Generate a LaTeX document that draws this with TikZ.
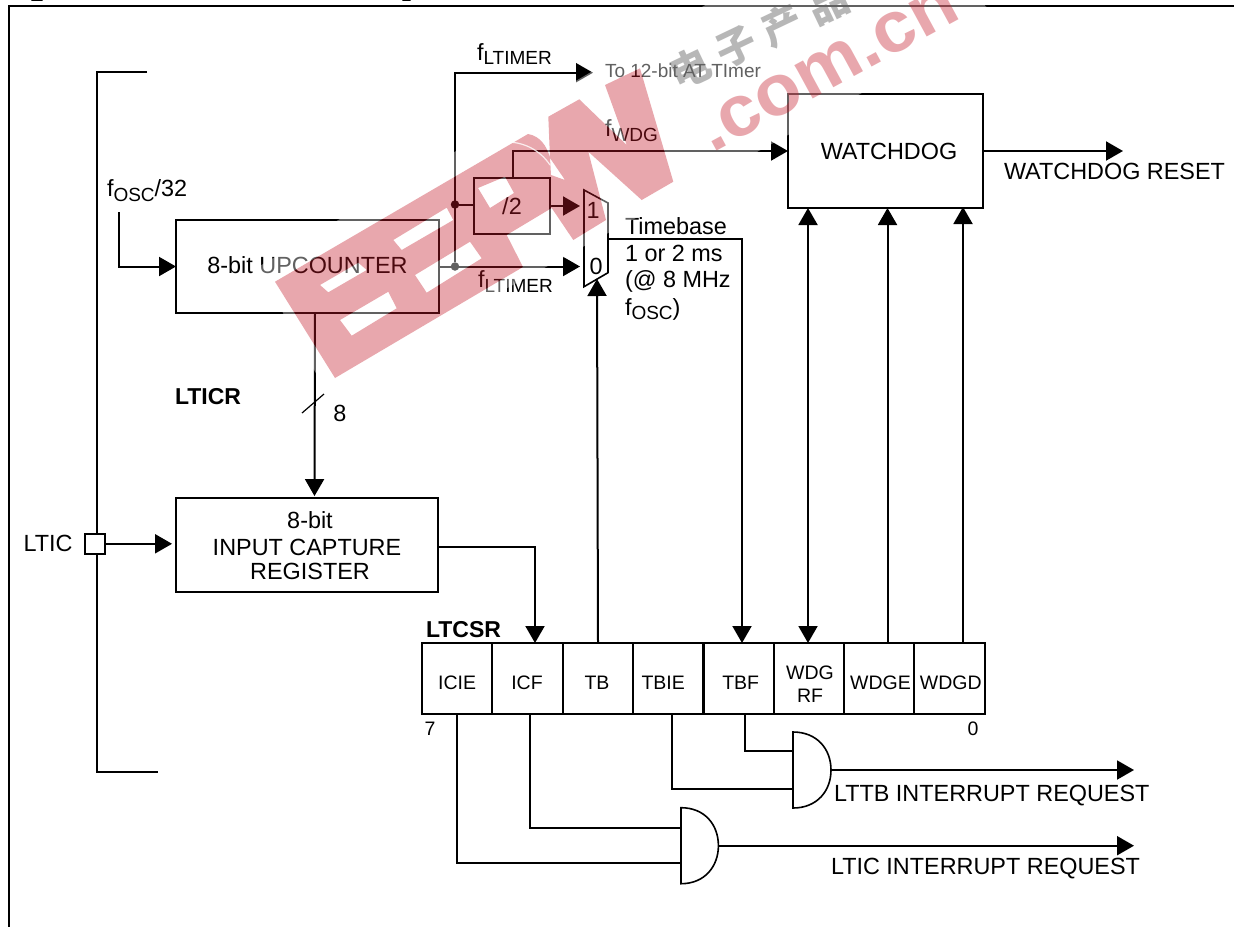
\documentclass[tikz,border=0pt]{standalone}
\usepackage{fontspec}
\setmainfont{Liberation Sans}
\newfontfamily\cjkwm{Noto Sans CJK SC}
\newfontfamily\latwm[FakeStretch=1.05]{Liberation Sans}
\usetikzlibrary{arrows.meta,calc}
\newcommand\fsz[1]{\fontsize{#1}{#1}\selectfont}
\newcommand\lowtxt[1]{\raisebox{-4.6pt}{\fsz{19}#1}}
\definecolor{wmred}{RGB}{197,26,40}
\tikzset{
  wire/.style={line width=2pt,line join=miter},
  arr/.style={wire,-{Triangle[length=17pt,width=19pt]}},
  darr/.style={wire,{Triangle[length=17pt,width=19pt]}-{Triangle[length=17pt,width=19pt]}},
  block/.style={draw,line width=2pt,inner sep=0pt,outer sep=0pt},
  lab/.style={inner sep=0pt,outer sep=0pt,font=\fsz{23.4}},
  celltxt/.style={inner sep=0pt,outer sep=0pt,font=\fsz{19.5},align=center},
  regcell/.style={draw,line width=1.6pt,inner sep=0pt,outer sep=0pt,minimum height=71pt},
  gate/.style={line width=1.6pt,fill=white},
  jdot/.style={circle,fill=black,inner sep=0pt,minimum size=8.5pt,outer sep=0pt},
  wmark/.style={fill=wmred,fill opacity=.38},
}
\def\eepwpath{
  (275,281.7) -- (528,134) .. controls (540,136) and (547,146) .. (550,158) -- (551,175) -- (551.7,208) -- (506.7,235) -- (523,267) -- (335,378) -- cycle
  (320,285) -- (358.3,262.7) -- (366.7,270) -- (328.3,292.3) -- cycle
  (340,320) -- (388.3,291.7) -- (396.7,308.3) -- (351.7,335.7) -- cycle
  (393.3,240) -- (446.7,207.7) -- (453.3,220) -- (401.7,250) -- cycle
  (415,275) -- (470,241.7) -- (481.7,258.3) -- (426.7,292.7) -- cycle
  (478,188) -- (505,176.7) -- (514,193) -- (490,208) -- cycle
  (548.3,116.7) -- (579.3,99.3) -- (626.7,145) -- (605,85) -- (640,68.3) -- (673.3,181.7) -- (641.7,200) -- (588.3,151.7) -- (606,220) -- (573.3,240) -- (551.7,208) -- (551,175) -- (565,180) -- (550,158) -- cycle
}
\begin{document}
\begin{tikzpicture}[x=1pt,y=-1pt]
\useasboundingbox (0,0) rectangle (1234,927);
\clip (0,0) rectangle (1234,927);
\fill[white] (0,0) rectangle (1234,927);

% grey watermark characters, behind the diagram
\node[inner sep=0pt,anchor=base west,rotate=25.5,text=black!45,font=\fsz{40}\cjkwm\bfseries] (wmcn) at (678,91) {电\hspace{11pt}子\hspace{11pt}产\hspace{11pt}品};

% frame and clipped title descenders
\draw[wire] (1234,6) -- (9,6) -- (9,927);
\draw[line width=1.6pt,line cap=round] (32,0.4) -- (42,0.4);
\draw[line width=1.6pt,line cap=round] (403,0.4) -- (410,0.4);

% package bracket
\draw[wire] (147,72) -- (96.5,72) -- (96.5,772) -- (158,772);

% blocks
\node[block,minimum width=263pt,minimum height=93pt,label={[lab,yshift=1.5pt]center:8-bit UPCOUNTER}] (upc) at (307.5,266.5) {};
\node[block,minimum width=262.5pt,minimum height=93.7pt,label={[lab,align=center,yshift=-.5pt]center:\hspace*{6pt}8-bit\\[3.4pt]INPUT CAPTURE\\[.6pt]\hspace*{6pt}REGISTER}] (icr) at (307,544.9) {};
\node[block,minimum width=195pt,minimum height=114pt,label={[lab,xshift=3.5pt]center:WATCHDOG}] (wdg) at (885.5,151) {};
\node[block,minimum width=76pt,minimum height=56pt,font=\fsz{23.4}] (div) at (512,206) {/2};
\node[block,fill=white,minimum width=20pt,minimum height=19.7pt] (pin) at (94.6,543.8) {};

% multiplexer
\draw[line width=1.6pt,fill=white] (584,190) -- (608,203) -- (608,272.7) -- (584,286.7) -- cycle;
\node[lab] (mone) at (593,210) {1};
\node[lab] (mzero) at (596,266.7) {0};
\coordinate (muxa) at (580,206);
\coordinate (muxb) at (580,266.5);
\coordinate (muxc) at (597,279);
\coordinate (muxout) at (608,239);

% register cells
\node[regcell,minimum width=69.6pt,label={[celltxt,yshift=-4pt]center:ICIE}] (icie) at (457.2,678.5) {};
\node[regcell,minimum width=71pt,label={[celltxt,yshift=-4pt,xshift=-.5pt]center:ICF}] (icf) at (527.5,678.5) {};
\node[regcell,minimum width=70pt,label={[celltxt,yshift=-4pt,xshift=-1pt]center:TB}] (tb) at (598,678.5) {};
\node[regcell,minimum width=70.5pt,label={[celltxt,yshift=-4pt,xshift=-5pt]center:TBIE}] (tbie) at (668.2,678.5) {};
\node[regcell,minimum width=70.5pt,label={[celltxt,yshift=-4pt,xshift=2pt]center:TBF}] (tbf) at (738.7,678.5) {};
\node[regcell,minimum width=70pt,label={[celltxt,yshift=-5.5pt,xshift=1pt]center:{WDG\\[3pt]RF}}] (wdgrf) at (809,678.5) {};
\node[regcell,minimum width=70pt,label={[celltxt,yshift=-4pt,xshift=1.5pt]center:WDGE}] (wdge) at (879,678.5) {};
\node[regcell,minimum width=71pt,label={[celltxt,yshift=-4pt,xshift=1.2pt]center:WDGD}] (wdgd) at (949.5,678.5) {};
\draw[line width=2pt] (422.4,643) rectangle (985,714);
\draw[line width=2.6pt] (703.5,643) -- (703.5,714);
\node[celltxt,anchor=base] (bsev) at (430,735) {7};
\node[celltxt,anchor=base] (bzero) at (973,735) {0};
\node[lab,anchor=base west,font=\fsz{23}\bfseries] (ltcsr) at (426,637) {LTCSR};
\node[lab,anchor=base west,font=\fsz{23}\bfseries] (lticr) at (175,404) {LTICR};

% gates
\draw[gate] (793,732) .. controls (817,732) and (831,749) .. (831,770) .. controls (831,791) and (817,808) .. (793,808) -- cycle;
\draw[gate] (681,807.7) .. controls (705,807.7) and (718.4,825) .. (718.4,845.7) .. controls (718.4,866) and (705,883.7) .. (681,883.7) -- cycle;
\coordinate (anda) at (793,750.7);
\coordinate (andb) at (793,788.7);
\coordinate (ando) at (831,770);
\coordinate (orta) at (681,828);
\coordinate (ortb) at (681,863);
\coordinate (orto) at (718.4,845.7);

% junctions and free ends
\node[jdot] (ja) at (455,204.5) {};
\node[jdot] (jb) at (455,266.5) {};
\coordinate (totimer) at (593,72.7);
\coordinate (foscin) at (118.6,212);
\coordinate (resetout) at (1123,151);
\coordinate (ttbout) at (1134,770);
\coordinate (ticout) at (1134,845.7);
\coordinate (slasha) at (302,413);
\coordinate (slashb) at (324,394);

% connectors
\draw[arr] (jb) -- (totimer -| jb) -- (totimer);
\draw[wire] (ja) -- (div.west |- ja);
\draw[arr] (div.east) -- (muxa);
\draw[arr] (upc.east) -- (muxb);
\draw[arr] ([xshift=1pt]div.north) |- (wdg.west);
\draw[arr] (foscin) |- (upc.west);
\draw[arr] ([xshift=7.5pt]upc.south) -- ([xshift=7.5pt,yshift=2pt]icr.north);
\draw[line width=1.2pt] (slasha) -- (slashb);
\draw[arr] (pin.east) -- ([xshift=-3.7pt]icr.west |- pin.east);
\draw[arr] (icr.east |- 0,546.7) -| ([xshift=7.5pt]icf.north);
\draw[arr] (tb.north) -- (muxc);
\draw[arr] (muxout) -| ([xshift=3.3pt]tbf.north);
\draw[darr] (wdgrf.north -| 808,0) -- (wdg.south -| 808,0);
\draw[arr] ([xshift=8.5pt]wdge.north) -- (wdg.south -| 887.5,0);
\draw[arr] ([xshift=13.5pt]wdgd.north) -- ([yshift=1pt]wdg.south -| 963,0);
\draw[arr] (wdg.east) -- (resetout);
\draw[wire] ([xshift=6.3pt]tbf.south) |- (anda);
\draw[wire] ([xshift=3.8pt]tbie.south) |- (andb);
\draw[wire] ([xshift=2.5pt]icf.south) |- (orta);
\draw[wire] (icie.south) |- (ortb);
\draw[arr] (ando) -- (ttbout);
\draw[arr] (orto) -- (ticout);

% labels
\node[lab,anchor=base west] (ltop) at (477,60) {f\lowtxt{LTIMER}};
\node[lab,anchor=base west] (lbot) at (478,287.5) {f\lowtxt{LTIMER}};
\node[lab,anchor=base west] (lwdg) at (605,136.5) {f\lowtxt{WDG}};
\node[lab,anchor=base west] (losc) at (107,196.7) {f\lowtxt{OSC}/32};
\node[lab,anchor=base west,font=\fsz{19}] (to12) at (605,77.3) {To 12-bit AT TImer};
\node[lab,anchor=base west] (tbase) at (625,234) {Timebase};
\node[lab,anchor=base west] (tbtwo) at (625,261.7) {1 or 2 ms};
\node[lab,anchor=base west] (tbthree) at (625,287.5) {(@ 8 MHz};
\node[lab,anchor=base west] (tbfour) at (625,315) {f\lowtxt{OSC})};
\node[lab] (eight) at (340,413) {8};
\node[lab] (ltic) at (48,543) {LTIC};
\node[lab,anchor=base west] (wres) at (1004,179) {WATCHDOG RESET};
\node[lab,anchor=base west] (ttbreq) at (834,801) {LTTB INTERRUPT REQUEST};
\node[lab,anchor=base west] (ticreq) at (831,874) {LTIC INTERRUPT REQUEST};

% watermark
\fill[white,fill opacity=.38,even odd rule] (258,267) -- (714,0) -- (985,0) -- (985,6) -- (1000,15) -- (860,94) -- (788,135) -- (324,388) -- cycle \eepwpath;
\fill[wmark,even odd rule] \eepwpath;
\draw[white,line width=1.2pt,opacity=.8] (503,142) .. controls (523,141) and (540,150) .. (550,165);
\node[inner sep=0pt,anchor=base west,rotate=28.5,text=wmred,text opacity=.38,font=\fsz{72}\latwm\bfseries] (wmcom) at (712,154) {.com.cn};
\end{tikzpicture}
\end{document}
